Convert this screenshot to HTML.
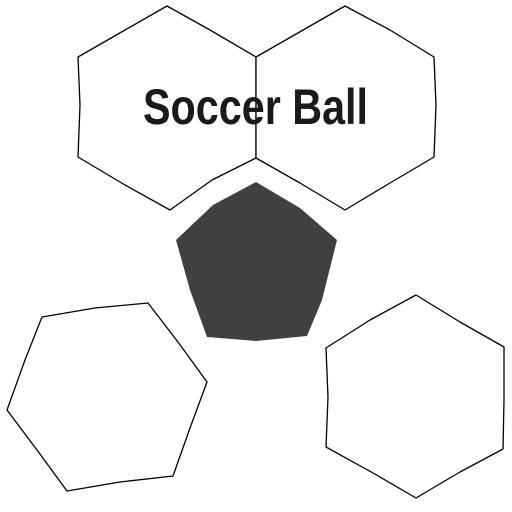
<!DOCTYPE html>
<html><head><meta charset="utf-8"><style>html,body{margin:0;padding:0;background:#fff;width:512px;height:512px;overflow:hidden}</style></head>
<body>
<svg width="512" height="512" viewBox="0 0 512 512">
<g fill="#fff" stroke="#000" stroke-width="1.3" stroke-linejoin="round">
<polygon points="167,6 210,30 256,57 256,158 212,180 170,210 125,185 78,157 80,105 78,57 125,30"/>
<polygon points="256,57 345,6 390,30 434,57 436,105 434,157 390,183 345,210 300,183 256,158"/>
<polygon points="42,317 95,308 148,303 178,342 207,382 190,428 173,476 120,482 67,491 37,450 7,410 25,360"/>
<polygon points="416,295 460,322 504,347 504,400 503,449 460,472 416,498 373,473 326,447 328,397 326,348 370,320"/>
</g>
<polygon fill="#404040" points="256,182 300,208 337,240 322,300 307,336 256,341 207,337 190,290 176,240 213,205"/>
<text x="143" y="124" textLength="225" lengthAdjust="spacingAndGlyphs" font-family="Liberation Sans, sans-serif" font-weight="bold" font-size="50" fill="#1a1a1a">Soccer Ball</text>
</svg>
</body></html>
